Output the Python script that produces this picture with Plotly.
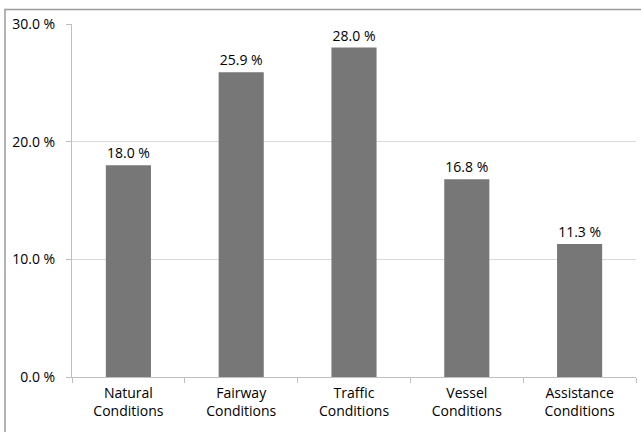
import plotly.graph_objects as go

categories = ["Natural<br>Conditions", "Fairway<br>Conditions", "Traffic<br>Conditions",
              "Vessel<br>Conditions", "Assistance<br>Conditions"]
values = [18.0, 25.9, 28.0, 16.8, 11.3]
y_ticks = [0, 10, 20, 30]
y_tick_labels = ["0.0 %", "10.0 %", "20.0 %", "30.0 %"]

fig = go.Figure(go.Bar(
    x=categories, y=values, width=0.4,
    marker=dict(color="#777777", line=dict(width=0)),
    text=[f"{v:.1f} %" for v in values], textposition="outside",
    textfont=dict(family="Open Sans", size=14, color="#000000"),
    cliponaxis=False,
))

fig.update_layout(
    width=641, height=432,
    margin=dict(l=72, r=5, t=24, b=55),
    plot_bgcolor="white", paper_bgcolor="white",
    font=dict(family="Open Sans", size=14, color="#000000"),
    showlegend=False,
    bargap=0.6,
)
fig.update_yaxes(
    range=[0, 30], tickvals=y_ticks, ticktext=y_tick_labels,
    showgrid=True, gridcolor="#d9d9d9", gridwidth=1,
    showline=True, linecolor="#bfbfbf", linewidth=1,
    ticks="outside", ticklen=5, tickcolor="#bfbfbf",
    zeroline=False, tickfont=dict(size=14), ticklabelstandoff=8,
)
fig.update_xaxes(
    showline=True, linecolor="#bfbfbf", linewidth=1,
    ticks="outside", ticklen=5, tickcolor="#bfbfbf", tickson="boundaries",
    tickfont=dict(size=14), ticklabelstandoff=3,
)
fig.add_shape(type="rect", xref="paper", yref="paper",
              x0=(5 - 72) / 564, x1=1.2, y0=-0.3, y1=1 + (24 - 9.5) / 352.5,
              line=dict(color="#9a9a9a", width=1.5), layer="below")

fig.write_html("out.html")
